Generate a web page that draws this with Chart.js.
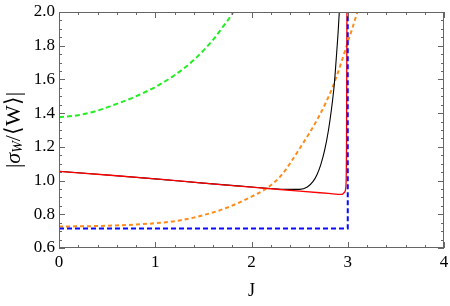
<!DOCTYPE html>
<html>
<head>
<meta charset="utf-8">
<script src="https://cdn.jsdelivr.net/npm/chart.js@4/dist/chart.umd.min.js"></script>
<style>
  body{margin:0;background:#fff;}
  canvas{display:block;}
</style>
</head>
<body>
<canvas id="c" width="450" height="306"></canvas>
<script>
// tick values
const xTicks = [0, 1, 2, 3, 4];
const yTicks = [0.6, 0.8, 1.0, 1.2, 1.4, 1.6, 1.8, 2.0];

// green dashed
const greenJ = [0, 0.2, 0.4, 0.6, 0.8, 1.0, 1.2, 1.4, 1.6, 1.7, 1.8, 1.85];
const greenY = [1.375, 1.388, 1.415, 1.455, 1.5, 1.555, 1.625, 1.715, 1.835, 1.91, 1.99, 2.04];

// orange dashed
const orangeJ = [0, 0.5, 1.0, 1.25, 1.5, 1.75, 2.0, 2.15, 2.3, 2.5, 2.7, 2.85, 3.0, 3.1, 3.15];
const orangeY = [0.727, 0.732, 0.747, 0.763, 0.795, 0.84, 0.905, 0.952, 1.025, 1.19, 1.38, 1.565, 1.82, 2.0, 2.1];

// black solid
const blackJ = [0, 0.5, 1, 1.5, 2, 2.2, 2.35, 2.5, 2.58, 2.64, 2.68, 2.72, 2.76, 2.8, 2.83, 2.86, 2.88, 2.9, 2.915];
const blackY = [1.055, 1.033, 1.01, 0.985, 0.962, 0.953, 0.948, 0.948, 0.962, 0.995, 1.035, 1.095, 1.18, 1.3, 1.42, 1.57, 1.72, 1.88, 2.03];

// red solid
const redJ = [0, 0.5, 1, 1.5, 2, 2.5, 2.8, 2.94, 2.965, 2.98, 2.987, 2.992];
const redY = [1.055, 1.033, 1.01, 0.985, 0.961, 0.937, 0.924, 0.918, 0.93, 0.96, 1.2, 2.1];

// blue dashed
const blueJ = [0, 1, 2, 2.5, 3.0, 3.0];
const blueY = [0.716, 0.716, 0.716, 0.716, 0.716, 2.05];

const pts = (xs, ys) => xs.map((x, i) => ({x: x, y: ys[i]}));
const serif = "'Liberation Serif', 'Times New Roman', serif";

const frame = {
  id: 'frame',
  afterDraw(chart){
    const {ctx, chartArea: a, scales: {x, y}} = chart;
    ctx.save();
    ctx.strokeStyle = '#666';
    ctx.lineWidth = 1;
    ctx.strokeRect(a.left + 0.5, a.top + 0.5, a.right - a.left - 1, a.bottom - a.top - 1);
    ctx.beginPath();
    for (let i = 0; i <= 20; i++) {
      const px = Math.round(x.getPixelForValue(i * 0.2)) + 0.5;
      const len = i % 5 === 0 ? 6 : 3;
      ctx.moveTo(px, a.bottom); ctx.lineTo(px, a.bottom - len);
      ctx.moveTo(px, a.top); ctx.lineTo(px, a.top + len);
    }
    for (let i = 0; i <= 28; i++) {
      const py = Math.round(y.getPixelForValue(0.6 + i * 0.05)) + 0.5;
      const len = i % 4 === 0 ? 6 : 3;
      ctx.moveTo(a.left, py); ctx.lineTo(a.left + len, py);
      ctx.moveTo(a.right, py); ctx.lineTo(a.right - len, py);
    }
    ctx.stroke();

    // y-axis title |σ_W/⟨W⟩|
    ctx.translate(14, (a.top + a.bottom) / 2);
    ctx.rotate(-Math.PI / 2);
    ctx.fillStyle = '#000';
    ctx.textBaseline = 'middle';
    const parts = [
      {t: '|', f: '22px ' + serif, dy: 0},
      {t: 'σ', f: 'italic 22px ' + serif, dy: 0},
      {t: 'W', f: 'italic 14px ' + serif, dy: 4},
      {t: '/', f: '22px ' + serif, dy: 0},
      {t: '⟨', f: '22px ' + serif, dy: 0},
      {t: 'W', f: '22px ' + serif, dy: 0},
      {t: '⟩', f: '22px ' + serif, dy: 0},
      {t: '|', f: '22px ' + serif, dy: 0}
    ];
    let total = 0;
    parts.forEach(p => { ctx.font = p.f; p.w = ctx.measureText(p.t).width; total += p.w; });
    let cx = -total / 2;
    parts.forEach(p => { ctx.font = p.f; ctx.fillText(p.t, cx, p.dy); cx += p.w; });
    ctx.restore();
  }
};

new Chart(document.getElementById('c').getContext('2d'), {
  type: 'line',
  data: {
    datasets: [
      {data: pts(blueJ, blueY), borderColor: '#0a0aff', borderWidth: 2, borderDash: [5, 3], tension: 0},
      {data: pts(redJ, redY), borderColor: '#ff0000', borderWidth: 1.3, cubicInterpolationMode: 'monotone'},
      {data: pts(blackJ, blackY), borderColor: '#000000', borderWidth: 1.1, cubicInterpolationMode: 'monotone'},
      {data: pts(orangeJ, orangeY), borderColor: '#ff8c1a', borderWidth: 2, borderDash: [4, 3], cubicInterpolationMode: 'monotone'},
      {data: pts(greenJ, greenY), borderColor: '#22ee22', borderWidth: 2, borderDash: [5, 3], cubicInterpolationMode: 'monotone'}
    ]
  },
  options: {
    responsive: false,
    animation: false,
    elements: {point: {radius: 0}},
    layout: {padding: {left: 0, right: 6, top: 12, bottom: 0}},
    plugins: {legend: {display: false}, tooltip: {enabled: false}},
    scales: {
      x: {
        type: 'linear', min: 0, max: 4,
        afterBuildTicks: s => { s.ticks = xTicks.map(v => ({value: v})); },
        ticks: {padding: 4, color: '#000', font: {family: serif, size: 17}, maxRotation: 0, callback: v => String(v)},
        grid: {display: false, drawTicks: false},
        border: {display: false},
        title: {display: true, text: 'J', color: '#000', font: {family: serif, size: 18}, padding: {top: 0, bottom: 4}},
        afterFit: s => { s.height = 58; s.paddingLeft = 0; s.paddingRight = 0; }
      },
      y: {
        min: 0.6, max: 2.0,
        afterBuildTicks: s => { s.ticks = yTicks.map(v => ({value: v})); },
        ticks: {padding: 4, color: '#000', font: {family: serif, size: 17, lineHeight: 1}, callback: v => v.toFixed(1)},
        grid: {display: false, drawTicks: false},
        border: {display: false},
        afterFit: s => { s.width = 59; s.paddingTop = 0; s.paddingBottom = 0; }
      }
    }
  },
  plugins: [frame]
});
</script>
</body>
</html>
